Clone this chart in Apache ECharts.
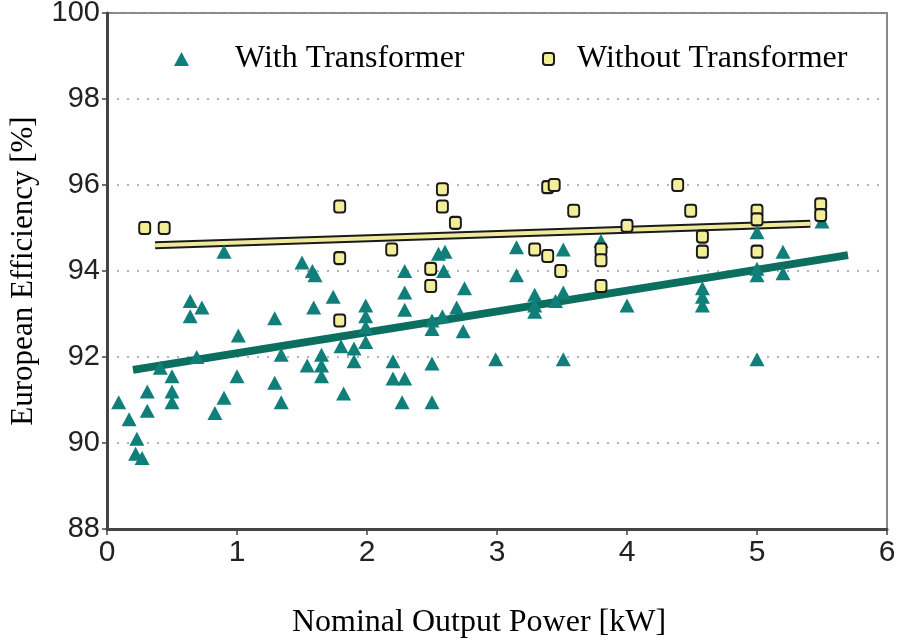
<!DOCTYPE html>
<html>
<head>
<meta charset="utf-8">
<script src="https://cdn.jsdelivr.net/npm/echarts@6/dist/echarts.min.js"></script>
<style>
  html, body { margin: 0; padding: 0; background: #fff; }
  #chart { width: 904px; height: 639px; }
</style>
</head>
<body>
<div id="chart"></div>
<script>
// With Transformer (triangles)
const withX = [0.09, 0.17, 0.23, 0.22, 0.27, 0.31, 0.31, 0.41, 0.5, 0.5, 0.5, 0.64, 0.64, 0.73, 0.69, 0.9, 1.01, 1.0, 0.9, 0.83,
  1.29, 1.29, 1.34, 1.34, 1.5, 1.58, 1.6, 1.59, 1.74, 1.8, 1.9, 1.9, 1.99, 1.99, 1.99, 1.99, 1.54, 1.65, 1.65, 1.65, 1.82,
  2.2, 2.2, 2.29, 2.27, 2.5, 2.5, 2.29, 2.29, 2.29, 2.5, 2.5, 2.58, 2.55, 2.6, 2.59, 2.69, 2.75, 2.74,
  3.15, 3.15, 3.29, 3.29, 3.29, 3.45, 3.51, 3.51, 2.99, 3.51, 3.8, 4.0, 4.58, 4.58, 4.58, 5.0, 5.0, 5.0, 5.2, 5.2, 5.5, 5.0]
const withY = [90.95, 90.55, 90.1, 89.75, 89.65, 91.2, 90.75, 91.75, 91.55, 91.2, 90.95, 93.3, 92.95, 93.15, 92.0, 94.45, 92.5, 91.55, 91.05, 90.7,
  92.9, 91.4, 92.05, 90.95, 94.2, 94.0, 93.9, 93.15, 93.4, 92.25, 92.2, 91.9, 93.2, 92.95, 92.7, 92.35, 91.8, 92.05, 91.8, 91.55, 91.15,
  91.9, 91.5, 91.5, 90.95, 91.85, 90.95, 94.0, 93.5, 93.1, 92.85, 92.65, 92.95, 94.4, 94.45, 94.0, 93.15, 93.6, 92.6,
  94.55, 93.9, 93.45, 93.2, 93.05, 93.3, 94.5, 93.5, 91.95, 91.95, 94.7, 93.2, 93.6, 93.4, 93.2, 94.9, 94.05, 93.9, 94.45, 93.95, 95.15, 91.95]

// Without Transformer (squares)
const withoutX = [0.29, 0.44, 1.79, 1.79, 1.79, 2.19, 2.49, 2.49, 2.58, 2.58, 2.68, 3.39, 3.44, 3.59, 3.29, 3.39, 3.49,
  3.8, 3.8, 3.8, 4.0, 4.39, 4.49, 4.58, 4.58, 5.0, 5.0, 5.0, 5.49, 5.49]
const withoutY = [95.0, 95.0, 95.5, 94.3, 92.85, 94.5, 94.05, 93.65, 95.9, 95.5, 95.12, 95.95, 96.0, 95.4, 94.5, 94.35, 94.0,
  94.5, 94.25, 93.65, 95.05, 96.0, 95.4, 94.8, 94.45, 95.4, 95.2, 94.45, 95.55, 95.3]

// trend lines
const trendWithX = [0.2, 5.7]
const trendWithY = [91.7, 94.37]
const trendWithoutX = [0.37, 5.41]
const trendWithoutY = [94.6, 95.1]

const xTicks = [0, 6, 1]
const yTicks = [88, 100, 2]

const zip = (xs, ys) => xs.map((x, i) => [x, ys[i]])

const serif = "'Liberation Serif', 'Times New Roman', serif"
const sans = "'Liberation Sans', Arial, sans-serif"

const chart = echarts.init(document.getElementById('chart'))
chart.setOption({
  animation: false,
  backgroundColor: '#fff',
  grid: {
    left: 107, right: 17, top: 13, bottom: 110, outerBoundsMode: 'none', containLabel: false,
    show: true, borderColor: '#888', borderWidth: 2,
  },
  legend: [
    {
      data: ['With Transformer'], left: 169, top: 38, itemWidth: 15, itemHeight: 14,
      textStyle: { fontFamily: serif, fontSize: 32, color: '#000', padding: [0, 0, 0, 41] },
    },
    {
      data: ['Without Transformer'], left: 537, top: 38, itemWidth: 11, itemHeight: 12,
      textStyle: { fontFamily: serif, fontSize: 32, color: '#000', padding: [0, 0, 0, 18] },
    },
  ],
  xAxis: {
    type: 'value', min: xTicks[0], max: xTicks[1], interval: xTicks[2],
    name: 'Nominal Output Power [kW]', nameLocation: 'middle', nameGap: 78,
    nameTextStyle: { fontFamily: serif, fontSize: 32, color: '#000', padding: [0, 36, 0, 0] },
    axisLine: { onZero: false, lineStyle: { color: '#444', width: 3 } },
    axisTick: { show: true, length: 6, lineStyle: { color: '#444', width: 1.5 } },
    axisLabel: { fontFamily: sans, fontSize: 30, color: '#222', margin: 9 },
    splitLine: { show: false },
  },
  yAxis: {
    type: 'value', min: yTicks[0], max: yTicks[1], interval: yTicks[2],
    name: 'European Efficiency [%]', nameLocation: 'middle', nameGap: 68, nameRotate: 90,
    nameTextStyle: { fontFamily: serif, fontSize: 31, color: '#000' },
    axisLine: { show: true, onZero: false, lineStyle: { color: '#444', width: 3 } },
    axisTick: { show: true, length: 5, lineStyle: { color: '#444', width: 1.5 } },
    axisLabel: { fontFamily: sans, fontSize: 29, color: '#222', margin: 7 },
    splitLine: { show: true, lineStyle: { color: '#999', type: [2, 8], width: 1.5 } },
  },
  series: [
    {
      name: 'trendWith', type: 'line', data: zip(trendWithX, trendWithY), symbol: 'none', z: 2,
      lineStyle: { color: '#0c6e5f', width: 8 },
    },
    {
      name: 'trendWithoutEdge', type: 'line', data: zip(trendWithoutX, trendWithoutY), symbol: 'none', z: 2,
      lineStyle: { color: '#1a1a1a', width: 8 },
    },
    {
      name: 'trendWithout', type: 'line', data: zip(trendWithoutX, trendWithoutY), symbol: 'none', z: 3,
      lineStyle: { color: '#efe99a', width: 4 },
    },
    {
      name: 'With Transformer', type: 'scatter', data: zip(withX, withY), z: 4,
      symbol: 'triangle', symbolSize: [15, 14],
      itemStyle: { color: '#107e79', opacity: 1 },
    },
    {
      name: 'Without Transformer', type: 'scatter', data: zip(withoutX, withoutY), z: 5,
      symbol: 'roundRect', symbolSize: [11, 12],
      itemStyle: { color: '#f3ee98', borderColor: '#1a1a1a', borderWidth: 2, opacity: 1 },
    },
  ],
})
</script>
</body>
</html>
